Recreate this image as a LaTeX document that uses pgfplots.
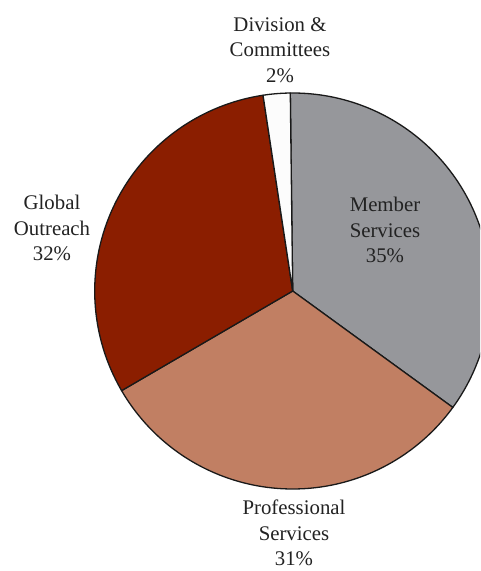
\documentclass[border=0pt]{standalone}
\usepackage{pgfplots}
\pgfplotsset{compat=1.18}
\usepackage{fontspec}
\setmainfont{Liberation Serif}
\definecolor{memc}{HTML}{96979B}
\definecolor{proc}{HTML}{C17F63}
\definecolor{gloc}{HTML}{8B1E00}
\definecolor{divc}{HTML}{FCFCFC}
\definecolor{txt}{HTML}{222222}
\begin{document}
\begin{tikzpicture}
% shares in percent (clockwise from the top)
\pgfmathsetmacro{\startang}{90.7}
\pgfmathsetmacro{\pMem}{35.2}
\pgfmathsetmacro{\pPro}{31.6}
\pgfmathsetmacro{\pGlo}{31.0}
\pgfmathsetmacro{\pDiv}{2.2}
\pgfmathsetmacro{\aA}{\startang}
\pgfmathsetmacro{\aB}{\aA-3.6*\pMem}
\pgfmathsetmacro{\aC}{\aB-3.6*\pPro}
\pgfmathsetmacro{\aD}{\aC-3.6*\pGlo}
\pgfmathsetmacro{\aE}{\aD-3.6*\pDiv}
\begin{axis}[
  scale only axis, width=480pt, height=571pt,
  xmin=-292.7, xmax=187.3, ymin=-280, ymax=291,
  hide axis, clip=true,
]
\addplot[fill=memc, draw=black!90, line width=1.3pt, line join=round, domain=\aB:\aA, samples=120]
  ({198*cos(x)},{198*sin(x)}) -- (0,0) -- cycle;
\addplot[fill=proc, draw=black!90, line width=1.3pt, line join=round, domain=\aC:\aB, samples=120]
  ({198*cos(x)},{198*sin(x)}) -- (0,0) -- cycle;
\addplot[fill=gloc, draw=black!90, line width=1.3pt, line join=round, domain=\aD:\aC, samples=120]
  ({198*cos(x)},{198*sin(x)}) -- (0,0) -- cycle;
\addplot[fill=divc, draw=black!90, line width=1.3pt, line join=round, domain=\aE:\aD, samples=20]
  ({198*cos(x)},{198*sin(x)}) -- (0,0) -- cycle;
\begin{scope}[every node/.style={align=center, text=txt, font=\fontsize{20.8}{25.5}\selectfont, inner sep=0pt}]
\node at (-12.7,241) {Division \&\\Committees\\2\%};
\node at (92.3,61) {Member\\Services\\35\%};
\node at (-240.7,63) {Global\\Outreach\\32\%};
\node at (1.3,-242) {Professional\\Services\\31\%};
\end{scope}
\end{axis}
\pgfresetboundingbox
\path (current axis.south west) rectangle (current axis.north east);
\end{tikzpicture}
\end{document}
